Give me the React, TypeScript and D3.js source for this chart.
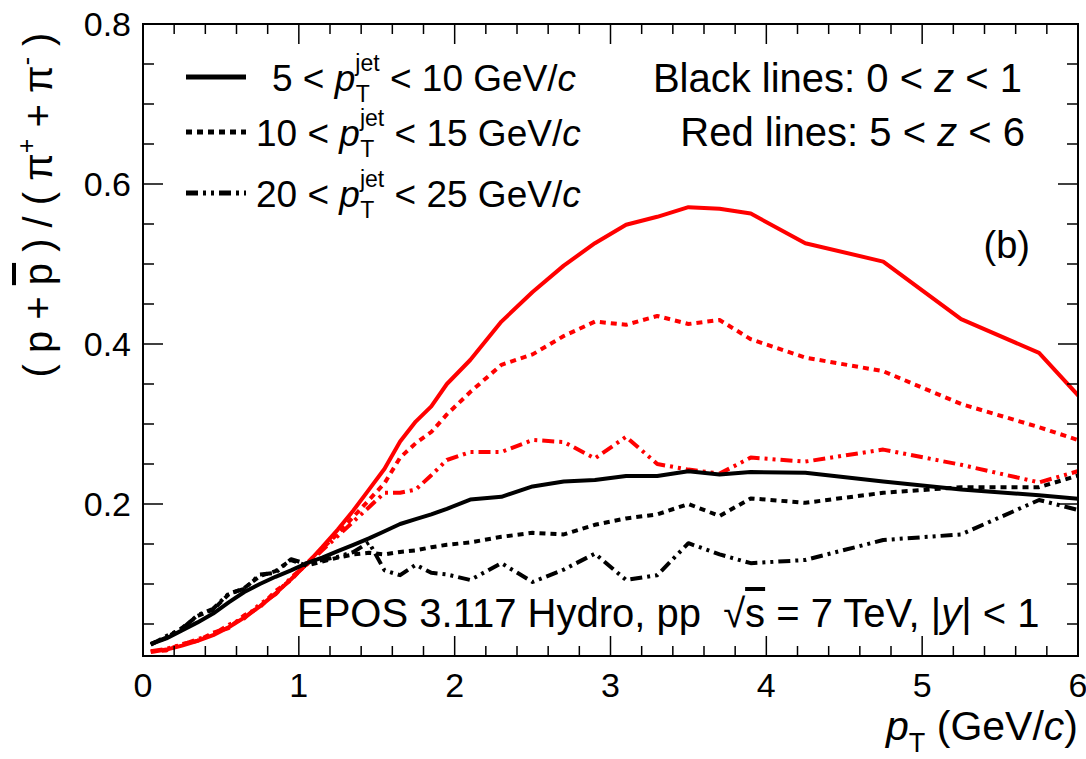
import React from "react";
import * as d3 from "d3";

// pT bin centres (GeV/c)
const pT = [
  0.05, 0.15, 0.25, 0.35, 0.45, 0.55, 0.65, 0.75, 0.85, 0.95,
  1.05, 1.15, 1.25, 1.35, 1.45, 1.55, 1.65, 1.75, 1.85, 1.95,
  2.1, 2.3, 2.5, 2.7, 2.9, 3.1, 3.3, 3.5, 3.7, 3.9,
  4.25, 4.75, 5.25, 5.75, 6.25,
];

// Black lines: 0 < z < 1
const blackJet5to10 = [
  0.025, 0.032, 0.042, 0.052, 0.063, 0.077, 0.09, 0.1, 0.109, 0.117,
  0.126, 0.133, 0.141, 0.149, 0.157, 0.166, 0.175, 0.181, 0.187, 0.194,
  0.2055, 0.209, 0.222, 0.228, 0.23, 0.235, 0.235, 0.241, 0.237, 0.24,
  0.239, 0.228, 0.218, 0.211, 0.202,
];
const blackJet10to15 = [
  0.025, 0.033, 0.045, 0.06, 0.068, 0.087, 0.095, 0.11, 0.116, 0.13,
  0.123, 0.128, 0.133, 0.137, 0.139, 0.137, 0.14, 0.142, 0.146, 0.149,
  0.152, 0.159, 0.164, 0.162, 0.174, 0.182, 0.187, 0.2, 0.185, 0.207,
  0.2015, 0.214, 0.221, 0.221, 0.25,
];
const blackJet20to25 = [
  0.024, 0.035, 0.044, 0.061, 0.069, 0.088, 0.094, 0.112, 0.114, 0.131,
  0.125, 0.13, 0.134, 0.14, 0.152, 0.117, 0.111, 0.124, 0.114, 0.112,
  0.105, 0.126, 0.1025, 0.118, 0.138, 0.105, 0.111, 0.151, 0.137, 0.126,
  0.13, 0.155, 0.162, 0.205, 0.18,
];

// Red lines: 5 < z < 6
const redJet5to10 = [
  0.015, 0.018, 0.023, 0.029, 0.036, 0.046, 0.058, 0.072, 0.088, 0.106,
  0.125, 0.146, 0.168, 0.192, 0.218, 0.244, 0.278, 0.303, 0.322, 0.35,
  0.38, 0.428, 0.465, 0.498, 0.526, 0.549, 0.559, 0.571, 0.569, 0.563,
  0.526, 0.503, 0.431, 0.389, 0.283,
];
const redJet10to15 = [
  0.016, 0.017, 0.025, 0.029, 0.039, 0.045, 0.061, 0.071, 0.091, 0.105,
  0.126, 0.144, 0.163, 0.184, 0.205, 0.226, 0.258, 0.276, 0.29, 0.312,
  0.34, 0.374, 0.387, 0.41, 0.428, 0.424, 0.435, 0.425, 0.43, 0.406,
  0.383, 0.366, 0.325, 0.296, 0.264,
];
const redJet20to25 = [
  0.016, 0.019, 0.024, 0.031, 0.037, 0.049, 0.057, 0.075, 0.087, 0.108,
  0.124, 0.142, 0.16, 0.178, 0.196, 0.214, 0.214, 0.218, 0.236, 0.255,
  0.265, 0.265, 0.28, 0.2775, 0.257, 0.284, 0.25, 0.243, 0.238, 0.258,
  0.253, 0.268, 0.249, 0.227, 0.255,
];

const xMajorTicks = [0, 1, 2, 3, 4, 5, 6];
const yMajorTicks = [0.2, 0.4, 0.6, 0.8];

const W = 1086;
const H = 759;
const FONT = '"Liberation Sans", Arial, Helvetica, sans-serif';
const RED = "#ff0000";
const DOT = "6,5";
const DASHDOT = "12,5,3,5,3,5";

export default function App() {
  const left = 143, right = 1078, top = 24, bottom = 656;
  const x = d3.scaleLinear().domain([0, 6]).range([left, right]);
  const y = d3.scaleLinear().domain([0.01, 0.8]).range([bottom, top]);
  const line = d3
    .line<number>()
    .x((_, i) => x(pT[i]))
    .y((d) => y(d));

  const series = [
    { v: redJet5to10, c: RED, dash: undefined },
    { v: redJet10to15, c: RED, dash: DOT },
    { v: redJet20to25, c: RED, dash: DASHDOT },
    { v: blackJet5to10, c: "#000", dash: undefined },
    { v: blackJet10to15, c: "#000", dash: DOT },
    { v: blackJet20to25, c: "#000", dash: DASHDOT },
  ];

  const xMinor = d3.range(0, 6.0001, 0.2).filter((t) => Math.abs(t - Math.round(t)) > 1e-6);
  const yMinor = d3
    .range(0.05, 0.8001, 0.05)
    .filter((t) => !yMajorTicks.some((m) => Math.abs(m - t) < 1e-6));

  const majL = 20, minL = 10;

  const legend = [
    { lo: "5", hi: "10", dash: undefined, ly: 77, ty: 91, tx: 272 },
    { lo: "10", hi: "15", dash: DOT, ly: 132, ty: 146, tx: 256 },
    { lo: "20", hi: "25", dash: DASHDOT, ly: 193, ty: 207, tx: 256 },
  ];

  return (
    <svg
      width={W}
      height={H}
      style={{ position: "absolute", left: 0, top: 0, background: "#fff" }}
      fontFamily={FONT}
    >
      <defs>
        <clipPath id="frame">
          <rect x={left} y={top} width={right - left} height={bottom - top} />
        </clipPath>
      </defs>
      <rect x={0} y={0} width={W} height={H} fill="#fff" />

      {/* curves */}
      <g clipPath="url(#frame)" fill="none">
        {series.map((s, i) => (
          <path
            key={i}
            d={line(s.v) || ""}
            stroke={s.c}
            strokeWidth={4}
            strokeDasharray={s.dash}
            strokeLinejoin="round"
          />
        ))}
      </g>

      {/* frame */}
      <rect
        x={left}
        y={top}
        width={right - left}
        height={bottom - top}
        fill="none"
        stroke="#000"
        strokeWidth={2}
      />

      {/* ticks */}
      <g stroke="#000" strokeWidth={1.5}>
        {xMajorTicks.map((t) => (
          <g key={"xm" + t}>
            <line x1={x(t)} x2={x(t)} y1={bottom} y2={bottom - majL} />
            <line x1={x(t)} x2={x(t)} y1={top} y2={top + majL} />
          </g>
        ))}
        {xMinor.map((t) => (
          <g key={"xn" + t}>
            <line x1={x(t)} x2={x(t)} y1={bottom} y2={bottom - minL} />
            <line x1={x(t)} x2={x(t)} y1={top} y2={top + minL} />
          </g>
        ))}
        {yMajorTicks.map((t) => (
          <g key={"ym" + t}>
            <line x1={left} x2={left + majL} y1={y(t)} y2={y(t)} />
            <line x1={right} x2={right - majL} y1={y(t)} y2={y(t)} />
          </g>
        ))}
        {yMinor.map((t) => (
          <g key={"yn" + t}>
            <line x1={left} x2={left + 11} y1={y(t)} y2={y(t)} />
            <line x1={right} x2={right - 11} y1={y(t)} y2={y(t)} />
          </g>
        ))}
      </g>

      {/* tick labels */}
      <g fontSize={34} fill="#000">
        {xMajorTicks.map((t) => (
          <text key={"xl" + t} x={x(t)} y={697} textAnchor="middle">
            {d3.format("d")(t)}
          </text>
        ))}
        {yMajorTicks.map((t) => (
          <text key={"yl" + t} x={131} y={y(t) + 12} textAnchor="end">
            {d3.format(".1f")(t)}
          </text>
        ))}
      </g>

      {/* x title */}
      <text x={right} y={740} fontSize={41} textAnchor="end">
        <tspan fontStyle="italic">p</tspan>
        <tspan fontSize={27} dy={12}>T</tspan>
        <tspan dy={-12}>{"\u00a0(GeV/"}</tspan>
        <tspan fontStyle="italic">c</tspan>
        <tspan>)</tspan>
      </text>

      {/* y title */}
      <text
        transform="translate(52,205) rotate(-90)"
        fontSize={40}
        textAnchor="middle"
      >
        <tspan>{"( p + "}</tspan>
        <tspan style={{ textDecoration: "overline" }}>p</tspan>
        <tspan>{" ) / ( π"}</tspan>
        <tspan fontSize={25} dy={-17}>+</tspan>
        <tspan dy={17}>{" + π"}</tspan>
        <tspan fontSize={25} dy={-17}>-</tspan>
        <tspan dy={17}>{" )"}</tspan>
      </text>

      {/* legend */}
      {legend.map((l, i) => (
        <g key={"lg" + i}>
          <line
            x1={186}
            x2={246}
            y1={l.ly}
            y2={l.ly}
            stroke="#000"
            strokeWidth={5}
            strokeDasharray={l.dash}
          />
          <text x={l.tx} y={l.ty} fontSize={37}>
            <tspan>{l.lo + " < "}</tspan>
            <tspan fontStyle="italic">p</tspan>
            <tspan fontSize={23} dy={-20}>jet</tspan>
            <tspan fontSize={23} dx={-24} dy={31}>T</tspan>
            <tspan dx={10} dy={-11}>{" < " + l.hi + " GeV/"}</tspan>
            <tspan fontStyle="italic">c</tspan>
          </text>
        </g>
      ))}

      {/* z ranges */}
      <text x={1022} y={92} fontSize={40} textAnchor="end">
        <tspan>{"Black lines: 0 < "}</tspan>
        <tspan fontStyle="italic">z</tspan>
        <tspan>{" < 1"}</tspan>
      </text>
      <text x={1025} y={146} fontSize={40} textAnchor="end">
        <tspan>{"Red lines: 5 < "}</tspan>
        <tspan fontStyle="italic">z</tspan>
        <tspan>{" < 6"}</tspan>
      </text>

      <text x={1030} y={258} fontSize={38} textAnchor="end">
        (b)
      </text>

      {/* model label */}
      <text x={297} y={627} fontSize={40}>
        <tspan>{"EPOS 3.117 Hydro, pp\u00a0\u00a0√"}</tspan>
        <tspan style={{ textDecoration: "overline" }}>s</tspan>
        <tspan>{" = 7 TeV, |"}</tspan>
        <tspan fontStyle="italic">y</tspan>
        <tspan>{"| < 1"}</tspan>
      </text>
    </svg>
  );
}
